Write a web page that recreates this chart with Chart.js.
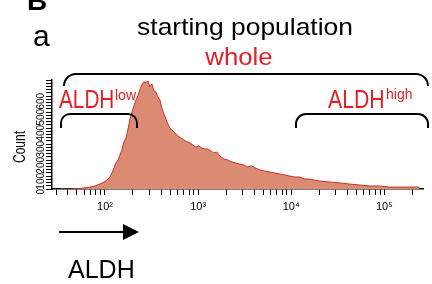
<!DOCTYPE html>
<html>
<head>
<meta charset="utf-8">
<script src="https://cdn.jsdelivr.net/npm/chart.js@4/dist/chart.umd.min.js"></script>
<style>
  html,body{margin:0;padding:0;background:#fff}
  #wrap{width:432px;height:284px;position:relative}
</style>
</head>
<body>
<div id="wrap"><canvas id="hist"></canvas></div>
<script>
// ALDH fluorescence (channel value) and event count
const aldh = [33,42,54,69,78,88,98,108,113,119,125,131,138,145,152,160,168,176,185,195,205,215,226,237,249,262,275,289,304,319,335,352,370,389,408,429,451,473,497,523,563,606,653,703,757,815,877,945,1017,1095,1180,1270,1368,1473,1586,1709,1886,2081,2297,2535,2798,3088,3409,3764,4150,4584,5185,5868,6637,7510,8500,9610,10870,12300,13920,15740,17810,20150,25800,33000,42270,54100,69200,88500,113400,145200,185800,237800];
const counts = [0,0,3,12,19,31,44,62,75,100,131,162,181,212,244,294,319,369,431,481,519,556,581,619,650,669,662,675,638,656,612,606,575,556,506,469,438,406,381,369,350,331,319,306,294,288,275,262,269,256,250,250,238,225,231,206,188,181,169,162,156,150,138,144,131,119,112,106,100,94,88,81,75,75,62,62,56,50,44,38,31,25,19,19,12,12,12,12];

const xMin = 27, xMax = 260000;
const decades = [100, 1000, 10000, 100000];
const decadeLabels = ['10\u00b2', '10\u00b3', '10\u2074', '10\u2075'];
const lowTicks = [30, 40, 50, 60, 70, 80, 90];
const yMax = 680;
const yLabelled = [0, 100, 200, 300, 400, 500, 600];

const FONT = '"Liberation Sans", Arial, Helvetica, sans-serif';
const RED = '#e31e24';

const xTickValues = lowTicks.slice();
decades.forEach(d => { for (let m = 1; m <= 9; m++) if (d * m < xMax) xTickValues.push(d * m); });
const yTickValues = [];
for (let v = 0; v <= yMax; v += 20) yTickValues.push(v);

function stretchText(ctx, str, x, y, font, sx, align){
  ctx.save();
  ctx.font = font;
  ctx.textAlign = align || 'left';
  ctx.translate(x, y);
  ctx.scale(sx, 1);
  ctx.fillText(str, 0, 0);
  ctx.restore();
}
function bracket(ctx, x1, x2, yTop, yEnd, r){
  ctx.beginPath();
  ctx.moveTo(x1, yEnd);
  ctx.arcTo(x1, yTop, x1 + r, yTop, r);
  ctx.lineTo(x2 - r, yTop);
  ctx.arcTo(x2, yTop, x2, yEnd, r);
  ctx.lineTo(x2, yEnd);
  ctx.stroke();
}

const notes = {
  id: 'notes',
  afterDraw(chart){
    const ctx = chart.ctx;
    ctx.save();
    ctx.textBaseline = 'alphabetic';
    ctx.fillStyle = '#000';
    stretchText(ctx, 'B', 27, 10, 'bold 28px ' + FONT, 1);
    stretchText(ctx, 'a', 33, 46, '30px ' + FONT, 1);
    stretchText(ctx, 'starting population', 245, 35, '24px ' + FONT, 1.1, 'center');
    ctx.fillStyle = RED;
    stretchText(ctx, 'whole', 239, 65, '23px ' + FONT, 1.12, 'center');
    // gates
    ctx.strokeStyle = '#000';
    ctx.lineWidth = 2;
    bracket(ctx, 64, 428, 74, 86, 12);
    bracket(ctx, 61, 137, 114, 128, 9);
    bracket(ctx, 296, 428, 114, 128, 10);
    ctx.fillStyle = RED;
    stretchText(ctx, 'ALDH', 59, 108, '25px ' + FONT, 0.83);
    stretchText(ctx, 'low', 115, 100, '14px ' + FONT, 1);
    stretchText(ctx, 'ALDH', 328, 108, '25px ' + FONT, 0.85);
    stretchText(ctx, 'high', 386, 99, '14px ' + FONT, 1);
    // arrow + axis name
    ctx.fillStyle = '#000';
    ctx.beginPath();
    ctx.moveTo(59, 232); ctx.lineTo(125, 232); ctx.stroke();
    ctx.beginPath();
    ctx.moveTo(123, 224); ctx.lineTo(139, 232); ctx.lineTo(123, 240); ctx.closePath(); ctx.fill();
    stretchText(ctx, 'ALDH', 68, 278, '25px ' + FONT, 1);
    // y title
    ctx.save();
    ctx.translate(25, 147);
    ctx.rotate(-Math.PI / 2);
    ctx.scale(0.75, 1);
    ctx.font = '16px ' + FONT;
    ctx.textAlign = 'center';
    ctx.fillText('Count', 0, 0);
    ctx.restore();
    ctx.restore();
  }
};

new Chart(document.getElementById('hist'), {
  type: 'line',
  data: {
    datasets: [{
      data: aldh.map((v, i) => ({ x: v, y: counts[i] })),
      borderColor: '#c9302c',
      borderWidth: 1,
      backgroundColor: '#db8b72',
      fill: 'origin',
      pointRadius: 0,
      tension: 0
    }]
  },
  options: {
    responsive: true,
    maintainAspectRatio: false,
    animation: false,
    layout: { padding: { left: 0, right: 9, top: 80, bottom: 0 } },
    plugins: { legend: { display: false }, tooltip: { enabled: false } },
    scales: {
      x: {
        type: 'logarithmic', min: xMin, max: xMax,
        afterBuildTicks: s => { s.ticks = xTickValues.map(v => ({ value: v })); },
        afterFit: s => { s.height = 95; },
        grid: { drawOnChartArea: false, drawTicks: true, tickLength: 6, color: '#000' },
        border: { display: true, color: '#000', width: 1.5 },
        ticks: {
          autoSkip: false, maxRotation: 0, minRotation: 0, padding: 5, color: '#000',
          font: { size: 11, family: FONT },
          callback: v => { const i = decades.indexOf(v); return i >= 0 ? decadeLabels[i] : ''; }
        }
      },
      y: {
        min: 0, max: yMax,
        afterBuildTicks: s => { s.ticks = yTickValues.map(v => ({ value: v })); },
        afterFit: s => { s.width = 52; },
        grid: { drawOnChartArea: false, drawTicks: true, tickLength: 6, color: '#000' },
        border: { display: true, color: '#000', width: 1.5 },
        ticks: {
          autoSkip: false, minRotation: 90, maxRotation: 90, padding: 5, color: '#000',
          font: { size: 10, family: FONT },
          callback: v => yLabelled.includes(v) ? String(v) : ''
        }
      }
    }
  },
  plugins: [notes]
});
</script>
</body>
</html>
